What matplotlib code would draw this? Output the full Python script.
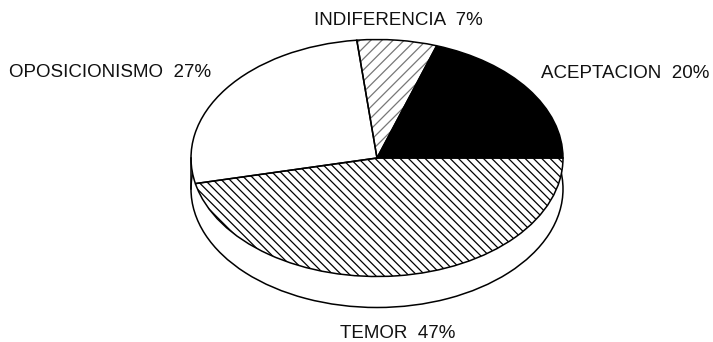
import matplotlib
matplotlib.use("Agg")
import matplotlib.pyplot as plt

categories = ["ACEPTACION", "INDIFERENCIA", "OPOSICIONISMO", "TEMOR"]
values = [20, 7, 27, 47]
labels = ["ACEPTACION  20%", "INDIFERENCIA  7%", "OPOSICIONISMO  27%", "TEMOR  47%"]
label_pos = [(625, 74), (398.5, 20.5), (110, 72.5), (398, 333.5)]
fills = ["black", "white", "white", "white"]
hatches = [None, "///", None, "\\\\\\\\"]
hatch_colors = ["black", "#777777", "black", "black"]

W, H = 713, 342
cx, cy, rx, ry, depth = 377, 158, 186, 118.5, 31

plt.rcParams["font.family"] = ["Liberation Sans", "DejaVu Sans"]
plt.rcParams["hatch.linewidth"] = 0.9

fig = plt.figure(figsize=(W / 100, H / 100), dpi=100)
ax = fig.add_axes([0, 0, 1, 1])

d = depth / ry
# side of the disc
ax.pie([1], startangle=0, center=(0, -d), radius=1, colors=["white"],
       wedgeprops=dict(edgecolor="black", linewidth=1.1), frame=True)
ax.plot([-1, -1], [0, -d], color="black", lw=1.1)

# top of the disc: fills and hatching
wedges, _ = ax.pie(values, startangle=0, center=(0, 0), radius=1, colors=fills,
                   wedgeprops=dict(linewidth=0), frame=True)
for w, h, c in zip(wedges, hatches, hatch_colors):
    w.set_edgecolor(c)
    if h:
        w.set_hatch(h)

# top of the disc: outlines
outlines, _ = ax.pie(values, startangle=0, center=(0, 0), radius=1,
                     wedgeprops=dict(edgecolor="black", linewidth=1.1, fill=False), frame=True)

ax.set_aspect("auto")
ax.set_xlim(-cx / rx, (W - cx) / rx)
ax.set_ylim((cy - H) / ry, cy / ry)
ax.axis("off")

for text, (x, y) in zip(labels, label_pos):
    fig.text(x / W, 1 - y / H, text, ha="center", va="center", fontsize=13.5, color="#111111")

fig.savefig("out.png", dpi=100)
